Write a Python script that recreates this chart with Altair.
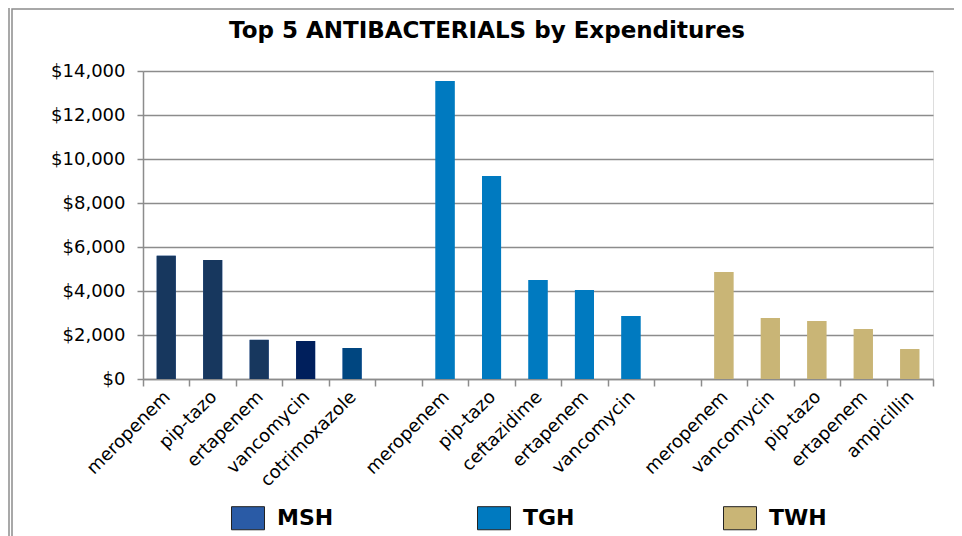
import altair as alt
import pandas as pd

hospitals = ["MSH", "TGH", "TWH"]
msh_drugs = ["meropenem", "pip-tazo", "ertapenem", "vancomycin", "cotrimoxazole"]
msh_values = [5600, 5410, 1780, 1730, 1410]
tgh_drugs = ["meropenem", "pip-tazo", "ceftazidime", "ertapenem", "vancomycin"]
tgh_values = [13550, 9230, 4500, 4050, 2860]
twh_drugs = ["meropenem", "vancomycin", "pip-tazo", "ertapenem", "ampicillin"]
twh_values = [4860, 2770, 2640, 2270, 1360]
msh_bar_colors = ["#17375E", "#17375E", "#17375E", "#001F5C", "#004680"]
tgh_bar_colors = ["#007AC0"] * 5
twh_bar_colors = ["#C9B576"] * 5
legend_colors = ["#2A5BA6", "#007AC0", "#C9B576"]

rows = []
groups = [("MSH", msh_drugs, msh_values, msh_bar_colors),
          ("TGH", tgh_drugs, tgh_values, tgh_bar_colors),
          ("TWH", twh_drugs, twh_values, twh_bar_colors)]
order = []
for gi, (h, drugs, vals, cols) in enumerate(groups):
    for d, v, c in zip(drugs, vals, cols):
        key = f"{h}|{d}"
        order.append(key)
        rows.append({"key": key, "hospital": h, "drug": d, "value": v, "barcolor": c})
    if gi < len(groups) - 1:
        order.append(f"gap{gi}|")
df = pd.DataFrame(rows)

W, H = 790, 308
PL, PT, PR, PB = 135, 63, 21, 175
FONT = "DejaVu Sans"

xscale = alt.Scale(domain=order, paddingInner=0, paddingOuter=0)
yscale = alt.Scale(domain=[0, 14000])

frame = alt.Chart(alt.Data(values=[{}])).mark_rect(
    fill=None, stroke="#8c8c8c", strokeWidth=1.5
).encode(
    x=alt.value(-131), x2=alt.value(812),
    y=alt.value(-62), y2=alt.value(H + PB + 20),
)
frame2 = alt.Chart(alt.Data(values=[{}])).mark_rule(
    color="#8c8c8c", strokeWidth=1.5
).encode(
    x=alt.value(-134), y=alt.value(-63), y2=alt.value(H + PB + 20),
)

base = alt.Chart(df)

legend_bars = base.mark_bar(width={"band": 0.41}).encode(
    x=alt.X("key:N", scale=xscale, sort=order, title=None,
            axis=alt.Axis(
                labelExpr="split(datum.value, '|')[1]",
                labelAngle=-45, labelAlign="right", labelBaseline="middle",
                labelFont=FONT, labelFontSize=18, labelColor="#000",
                labelPadding=8, labelOffset=1,
                tickBand="extent", tickSize=7, tickColor="#8c8c8c", tickWidth=1.5,
                domainColor="#8c8c8c", domainWidth=1.5, grid=False,
            )),
    y=alt.Y("value:Q", scale=yscale, title=None,
            axis=alt.Axis(
                values=[0, 2000, 4000, 6000, 8000, 10000, 12000, 14000],
                format="$,.0f", labelFont=FONT, labelFontSize=18,
                labelColor="#000", labelPadding=12,
                tickSize=6, tickColor="#8c8c8c", tickWidth=1.5,
                domainColor="#8c8c8c", domainWidth=1.5,
                grid=True, gridColor="#8c8c8c", gridWidth=1.5,
            )),
    color=alt.Color("hospital:N",
                    scale=alt.Scale(domain=hospitals, range=legend_colors),
                    legend=alt.Legend(
                        title=None, orient="none", legendX=88, legendY=430,
                        direction="horizontal", columns=3, columnPadding=140,
                        gridAlign="all",
                        symbolType="M-1,-0.7L1,-0.7L1,0.7L-1,0.7Z",
                        symbolSize=1089, symbolStrokeColor="#222",
                        symbolStrokeWidth=1, symbolOpacity=1,
                        labelFont=FONT, labelFontSize=22,
                        labelFontWeight="bold", labelColor="#000",
                        labelOffset=12,
                    )),
)

real_bars = base.mark_bar(width={"band": 0.41}).encode(
    x=alt.X("key:N", scale=xscale, sort=order),
    y=alt.Y("value:Q", scale=yscale),
    fill=alt.Fill("barcolor:N", scale=None),
)

chart = alt.layer(frame, frame2, legend_bars, real_bars).properties(
    width=W, height=H,
    padding={"left": PL, "top": PT, "right": PR, "bottom": PB},
    autosize=alt.AutoSizeParams(type="none"),
    title=alt.TitleParams(
        "Top 5 ANTIBACTERIALS by Expenditures",
        font=FONT, fontSize=23, fontWeight="bold", color="#000",
        anchor="middle", frame="group", dx=-51, offset=-36,
    ),
).configure_view(stroke=None).configure(background="white")

chart.save("out.html", embed_options={"renderer": "svg", "actions": False})
